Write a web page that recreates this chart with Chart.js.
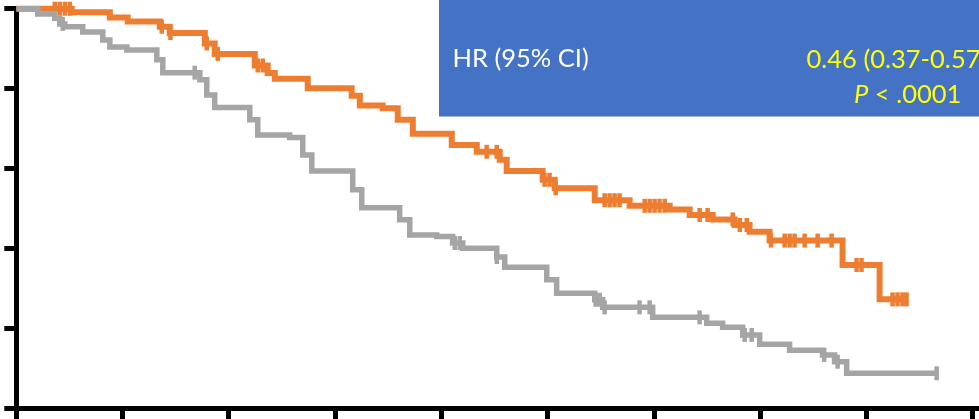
<!DOCTYPE html>
<html>
<head>
<meta charset="utf-8">
<script src="https://cdn.jsdelivr.net/npm/chart.js@4/dist/chart.umd.min.js"></script>
<style>
  html, body { margin: 0; padding: 0; background: #ffffff; overflow: hidden; }
  #wrap { position: relative; width: 979px; height: 419px; }
  canvas { display: block; }
</style>
</head>
<body>
<div id="wrap"><canvas id="km" width="979" height="419"></canvas></div>
<script>
// Time axis in months, survival in percent
const xTicks = [0, 6, 12, 18, 24, 30, 36, 42, 48, 54];
const yTicks = [0, 20, 40, 60, 80, 100];

// Experimental arm (orange): event times and survival after each step
const armATimes = [0, 3.13, 5.28, 6.29, 8.10, 8.66, 10.64, 11.20, 13.46, 14.19, 14.59, 16.45,
  18.93, 19.39, 20.68, 21.53, 22.38, 24.58, 25.99, 27.29, 27.68, 29.71, 30.39, 32.65, 34.62,
  36.88, 38.01, 39.31, 40.55, 41.39, 42.52, 46.64, 48.73, 50.25];
const armASurv = [100, 99.1, 97.8, 96.8, 95.5, 93.9, 91.3, 88.7, 85.8, 83.9, 82.5, 80.1,
  78.2, 75.8, 75.1, 72.2, 68.7, 65.9, 64.2, 62.2, 59.4, 57.2, 55.1, 52.1, 50.7,
  49.8, 48.4, 47.3, 45.9, 44.2, 42.0, 35.9, 27.3, 27.3];
const armACensored = [2.17, 2.45, 2.74, 3.02, 8.21, 8.70, 10.75, 11.37, 13.63, 13.91, 26.55, 27.12,
  29.82, 30.10, 30.45, 33.21, 33.49, 33.77, 34.05, 35.47, 35.75, 36.03, 36.31, 36.60, 38.57,
  39.02, 40.44, 40.84, 41.23, 42.60, 43.37, 43.65, 43.93, 44.50, 45.23, 46.02, 47.43, 47.71,
  49.46, 49.74, 50.02, 50.25];

// Control arm (grey)
const armBTimes = [0, 1.21, 2.17, 2.45, 2.74, 3.75, 4.88, 5.28, 6.24, 7.93, 8.27, 10.36, 10.75,
  11.20, 13.18, 13.63, 15.43, 16.17, 16.68, 18.99, 19.50, 21.64, 22.21, 23.73, 24.63, 25.20,
  27.12, 27.57, 29.94, 30.50, 32.65, 33.10, 35.92, 38.97, 39.87, 41.00, 41.96, 43.65, 45.51,
  46.19, 46.87, 51.95];
const armBSurv = [100, 98.7, 97.6, 96.2, 95.5, 94.2, 92.2, 90.4, 89.7, 87.2, 84.0, 82.2, 78.4,
  75.3, 72.2, 68.4, 67.8, 63.4, 59.4, 54.7, 50.2, 47.2, 43.4, 43.0, 41.4, 40.1,
  37.9, 35.3, 32.2, 28.8, 27.2, 25.3, 22.8, 21.3, 20.3, 18.4, 16.1, 14.6, 13.4,
  11.7, 8.8, 8.8];
const armBCensored = [2.62, 10.07, 24.75, 25.03, 27.12, 32.70, 32.93, 33.21, 35.18, 35.75, 38.57,
  41.11, 41.51, 45.60, 46.36, 51.95];

const hrLabel = 'HR (95% CI)';
const hrValue = '0.46 (0.37-0.57)';
const pSymbol = 'P';
const pValue = ' < .0001';

const ORANGE = '#ED7D31';
const GREY = '#A5A5A5';
const BLUE = '#4472C4';
const YELLOW = '#FFFF00';
const FONT = 'Lato, "Open Sans", "DejaVu Sans", sans-serif';

// Kaplan-Meier value in effect at time t (last step at or before t)
function survivalAt(times, surv, t) {
  let s = surv[0];
  for (let i = 0; i < times.length; i++) {
    if (times[i] <= t + 1e-9) s = surv[i]; else break;
  }
  return s;
}

const curve = (times, surv) => times.map((t, i) => ({ x: t, y: surv[i] }));
const marks = (cens, times, surv) => cens.map(t => ({ x: t, y: survivalAt(times, surv, t) }));

// Hazard-ratio box in the upper right corner
const hrBox = {
  id: 'hrBox',
  afterDraw(chart) {
    const ctx = chart.ctx;
    ctx.save();
    ctx.fillStyle = BLUE;
    ctx.fillRect(439, 0, 979 - 439, 116.5);
    ctx.textBaseline = 'alphabetic';
    ctx.textAlign = 'left';
    ctx.font = '25.5px ' + FONT;
    ctx.fillStyle = '#FFFFFF';
    ctx.fillText(hrLabel, 452.5, 67.3);
    ctx.fillStyle = YELLOW;
    ctx.fillText(hrValue, 806.5, 68.3);
    ctx.font = 'italic 25.5px ' + FONT;
    ctx.fillText(pSymbol, 854, 102.7);
    const w = ctx.measureText(pSymbol).width;
    ctx.font = '25.5px ' + FONT;
    ctx.fillText(pValue, 854 + w, 102.7);
    ctx.restore();
  }
};

const axisGrid = (len) => ({
  display: true,
  drawOnChartArea: false,
  drawTicks: true,
  tickLength: len,
  lineWidth: 5,
  tickWidth: 5,
  color: '#000000',
  tickColor: '#000000'
});

new Chart(document.getElementById('km'), {
  type: 'line',
  data: {
    datasets: [
      {
        label: 'Control',
        data: curve(armBTimes, armBSurv),
        stepped: 'before',
        borderColor: GREY,
        borderWidth: 5.5,
        pointRadius: 0,
        fill: false,
        clip: false,
        order: 1
      },
      {
        label: 'Control censored',
        data: marks(armBCensored, armBTimes, armBSurv),
        showLine: false,
        pointStyle: 'line',
        rotation: 90,
        pointRadius: 7,
        pointBorderWidth: 4.5,
        pointBorderColor: GREY,
        borderColor: GREY,
        clip: false,
        order: 0
      },
      {
        label: 'Experimental',
        data: curve(armATimes, armASurv),
        stepped: 'before',
        borderColor: ORANGE,
        borderWidth: 6,
        pointRadius: 0,
        fill: false,
        clip: false,
        order: 3
      },
      {
        label: 'Experimental censored',
        data: marks(armACensored, armATimes, armASurv),
        showLine: false,
        pointStyle: 'line',
        rotation: 90,
        pointRadius: 7,
        pointBorderWidth: 4.5,
        pointBorderColor: ORANGE,
        borderColor: ORANGE,
        clip: false,
        order: 2
      }
    ]
  },
  options: {
    responsive: false,
    animation: false,
    devicePixelRatio: 1,
    layout: { autoPadding: false, padding: { left: 4.3, top: 8.7, right: 0, bottom: 0 } },
    plugins: { legend: { display: false }, tooltip: { enabled: false } },
    scales: {
      x: {
        type: 'linear',
        min: 0,
        max: 54.34,
        afterBuildTicks: s => { s.ticks = xTicks.map(v => ({ value: v })); },
        ticks: { display: false },
        grid: axisGrid(10.5),
        border: { display: true, width: 5, color: '#000000' }
      },
      y: {
        type: 'linear',
        min: 0,
        max: 100,
        afterBuildTicks: s => { s.ticks = yTicks.map(v => ({ value: v })); },
        ticks: { display: false },
        grid: axisGrid(12),
        border: { display: true, width: 5, color: '#000000' }
      }
    }
  },
  plugins: [hrBox]
});
</script>
</body>
</html>
